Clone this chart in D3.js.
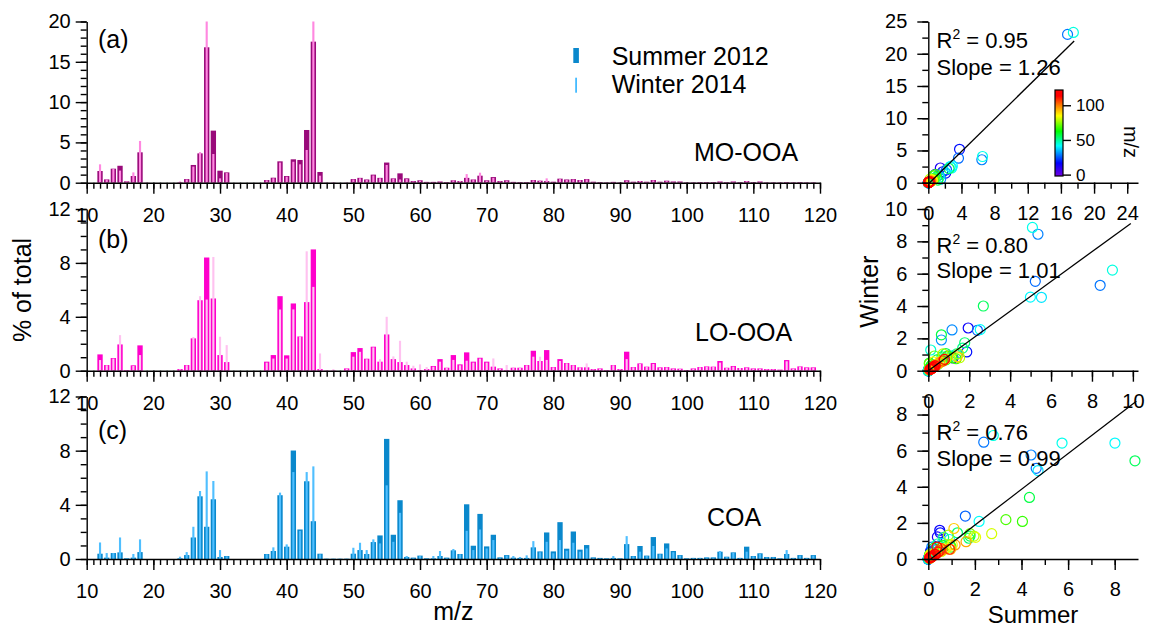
<!DOCTYPE html>
<html>
<head>
<meta charset="utf-8">
<script src="https://cdn.jsdelivr.net/npm/d3@7"></script>
<style>
    body { margin: 0; background: #fff; }
    svg { display: block; font-family: "Liberation Sans", Arial, sans-serif; }
</style>
</head>
<body>
<div id="chart"></div>
<script>

// m/z categories (12 ... 119)
let mz = d3.range(12, 120);

// MO-OOA, % of total
let moSummer = [
    1.45, 0.41, 1.74, 2.10, 0.17, 0.83, 3.77, 0.02, 0, 0,           // 12-21
    0, 0, 0.05, 0.45, 2.20, 3.64, 16.8, 6.46, 1.49, 1.28,           // 22-31
    0, 0, 0, 0, 0, 0.33, 0.62, 2.65, 0.83, 2.90,                    // 32-41
    2.82, 6.54, 17.5, 1.33, 0.02, 0.02, 0, 0.02, 0.45, 0.60,        // 42-51
    0.40, 1.00, 0.60, 2.50, 0.54, 1.16, 0.54, 0.20, 0.30, 0.10,     // 52-61
    0.10, 0.15, 0.08, 0.30, 0.20, 0.60, 0.40, 0.87, 0.30, 0.70,     // 62-71
    0.20, 0.30, 0.10, 0.08, 0.08, 0.33, 0.25, 0.20, 0.12, 0.50,     // 72-81
    0.40, 0.45, 0.33, 0.45, 0.12, 0.08, 0.05, 0.10, 0.05, 0.30,     // 82-91
    0.12, 0.20, 0.12, 0.33, 0.12, 0.25, 0.15, 0.15, 0.05, 0.05,     // 92-101
    0.08, 0.08, 0.08, 0.15, 0.08, 0.15, 0.08, 0.20, 0.08, 0.15,     // 102-111
    0.05, 0.05, 0.05, 0.08, 0.05, 0.08, 0.05, 0.05                  // 112-119
];
let moWinter = [
    2.28, 0.40, 1.70, 1.50, 0.15, 1.28, 5.18, 0.02, 0, 0,
    0, 0, 0.15, 0.40, 2.00, 3.80, 23.0, 3.56, 0.54, 1.20,
    0, 0, 0, 0, 0, 0.30, 0.55, 2.50, 0.75, 2.60,
    2.28, 4.06, 23.3, 0.87, 0.02, 0.05, 0, 0.02, 0.40, 0.55,
    0.35, 0.90, 0.55, 2.20, 0.50, 0.40, 0.45, 0.15, 0.25, 0.10,
    0.10, 0.15, 0.08, 0.30, 0.20, 1.07, 0.40, 1.24, 0.25, 0.60,
    0.15, 0.25, 0.10, 0.08, 0.08, 0.30, 0.25, 0.54, 0.12, 0.45,
    0.35, 0.40, 0.30, 0.40, 0.10, 0.08, 0.05, 0.10, 0.05, 0.25,
    0.10, 0.20, 0.10, 0.30, 0.10, 0.20, 0.12, 0.12, 0.05, 0.05,
    0.08, 0.08, 0.08, 0.15, 0.08, 0.15, 0.08, 0.20, 0.08, 0.15,
    0.05, 0.05, 0.05, 0.08, 0.05, 0.08, 0.05, 0.05
];

// LO-OOA
let loSummer = [
    1.21, 0.42, 0.94, 1.95, 0.05, 0.40, 1.88, 0, 0, 0,
    0, 0, 0.12, 0.42, 2.40, 5.23, 8.40, 5.36, 1.16, 0.64,
    0, 0, 0, 0, 0, 0.67, 1.16, 5.53, 1.14, 4.99,
    2.54, 5.09, 9.00, 0.12, 0.02, 0.02, 0, 0.17, 1.38, 1.68,
    0.89, 1.78, 0.67, 2.69, 0.86, 0.64, 0.42, 0.17, 0.05, 0.12,
    0.35, 0.86, 0.22, 1.16, 0.47, 1.36, 0.67, 0.96, 0.67, 0.30,
    0.17, 0.05, 0.22, 0.22, 0.42, 1.48, 0.72, 1.53, 0.27, 0.86,
    0.57, 0.42, 0.25, 0.25, 0.12, 0.17, 0.05, 0.42, 0.12, 1.41,
    0.27, 0.54, 0.30, 0.57, 0.25, 0.27, 0.17, 0.15, 0.05, 0.17,
    0.27, 0.32, 0.30, 0.72, 0.22, 0.35, 0.20, 0.25, 0.17, 0.17,
    0.12, 0.12, 0.08, 0.79, 0.17, 0.32, 0.25, 0.25
];
let loWinter = [
    0.79, 0.40, 0.90, 2.64, 0.05, 0.35, 1.16, 0, 0, 0,
    0, 0, 0.10, 0.40, 2.50, 5.53, 5.28, 8.44, 2.52, 1.90,
    0, 0, 0, 0, 0, 0.60, 0.90, 4.54, 0.90, 4.55,
    2.54, 8.86, 6.22, 1.28, 0.02, 0.12, 0, 0.15, 1.04, 1.40,
    0.85, 1.73, 0.86, 4.00, 1.06, 2.22, 0.67, 0.37, 0.47, 0.27,
    0.30, 0.67, 0.20, 0.80, 0.40, 0.74, 0.60, 0.90, 0.60, 0.91,
    0.15, 0.42, 0.20, 0.20, 0.40, 1.04, 1.04, 0.80, 0.25, 0.72,
    0.55, 0.40, 0.25, 0.54, 0.10, 0.15, 0.05, 0.40, 0.10, 0.86,
    0.25, 0.50, 0.28, 0.50, 0.22, 0.25, 0.15, 0.15, 0.05, 0.15,
    0.25, 0.30, 0.28, 0.60, 0.20, 0.30, 0.20, 0.22, 0.15, 0.15,
    0.10, 0.10, 0.08, 0.70, 0.15, 0.30, 0.22, 0.22
];

// COA
let coaSummer = [
    0.39, 0.10, 0.44, 0.49, 0.05, 0.10, 0.51, 0, 0, 0,
    0, 0, 0.05, 0.29, 1.59, 4.63, 2.38, 4.41, 0.15, 0.22,
    0, 0, 0, 0, 0, 0.37, 0.59, 4.71, 0.91, 8.01,
    2.18, 5.74, 2.79, 0.39, 0.02, 0.02, 0.02, 0.02, 0.39, 0.66,
    0.37, 1.25, 1.74, 8.87, 1.79, 4.34, 0.15, 0.10, 0.25, 0.05,
    0.05, 0.22, 0.10, 0.64, 0.37, 4.04, 0.98, 3.33, 0.93, 1.79,
    0.12, 0.29, 0.10, 0.08, 0.08, 0.86, 0.56, 1.96, 0.56, 2.72,
    0.76, 2.03, 0.69, 1.03, 0.12, 0.08, 0.05, 0.08, 0.05, 1.10,
    0.22, 0.96, 0.25, 1.62, 0.39, 1.15, 0.59, 0.29, 0.05, 0.08,
    0.08, 0.12, 0.12, 0.54, 0.17, 0.49, 0.08, 0.91, 0.22, 0.42,
    0.15, 0.15, 0.05, 0.37, 0.08, 0.29, 0.08, 0.29
];
let coaWinter = [
    1.22, 0.44, 0.44, 1.59, 0.05, 0.37, 1.45, 0, 0, 0,
    0, 0, 0.17, 0.51, 2.38, 5.02, 6.47, 5.76, 0.66, 0.20,
    0, 0, 0, 0, 0, 0.35, 0.86, 4.90, 1.08, 6.42,
    2.08, 6.42, 6.84, 0.35, 0.02, 0.02, 0.02, 0.02, 0.83, 1.20,
    0.66, 1.45, 1.15, 5.44, 1.27, 3.41, 0.22, 0.08, 0.22, 0.05,
    0.22, 0.59, 0.08, 0.74, 0.35, 2.08, 0.66, 2.18, 0.78, 1.40,
    0.10, 0.25, 0.22, 0.15, 0.27, 1.32, 0.50, 1.27, 0.42, 1.40,
    0.61, 1.20, 0.54, 0.78, 0.10, 0.05, 0.05, 0.22, 0.05, 1.69,
    0.20, 0.54, 0.22, 0.96, 0.35, 0.78, 0.50, 0.25, 0.05, 0.08,
    0.08, 0.12, 0.12, 0.59, 0.15, 0.45, 0.08, 0.54, 0.20, 0.38,
    0.12, 0.12, 0.05, 0.66, 0.08, 0.25, 0.08, 0.25
];

// labels
let componentNames = ["MO-OOA", "LO-OOA", "COA"];
let panelLetters = ["(a)", "(b)", "(c)"];
let legendLabels = ["Summer 2012", "Winter 2014"];
let r2Labels = ["0.95", "0.80", "0.76"];
let slopeLabels = ["1.26", "1.01", "0.99"];

// ticks
let mzTicks = d3.range(10, 121, 10);
let barYMax = [20, 12, 12];
let barYTicks = [[0, 5, 10, 15, 20], [0, 4, 8, 12], [0, 4, 8, 12]];
let scatterXMax = [25.3, 10.25, 9];
let scatterYMax = [25, 10, 9];
let scatterXTicks = [[0, 4, 8, 12, 16, 20, 24], [0, 2, 4, 6, 8, 10], [0, 2, 4, 6, 8]];
let scatterXMinorStep = [2, 1, 1];
let scatterYTicks = [[0, 5, 10, 15, 20, 25], [0, 2, 4, 6, 8, 10], [0, 2, 4, 6, 8]];
let scatterYMinorStep = [2.5, 1, 1];
let colorbarTicks = [0, 50, 100];

// drawn fit lines (data units)
let fitX = [[0.1, 17.6], [0.05, 9.9], [0.05, 8.93]];
let fitSlope = [1.26, 0.92, 0.99];
let fitIntercept = [-0.2, 0, -0.1];

// colours
let summerColors = ["#990a7a", "#ff00cc", "#0a88cc"];
let winterColors = ["#ff88e0", "#ffc2f0", "#50bfff"];
let rainbowStops = [[0, "#7000e0"], [0.15, "#0000ff"], [0.35, "#00ffff"], [0.52, "#00ff00"],
                    [0.70, "#ffff00"], [0.82, "#ff8000"], [0.93, "#ff0000"], [1, "#ff0000"]];

// layout
let rowTop = [21.5, 209, 396.5];
let rowBottom = [182.7, 370.7, 559];
let barLeft = 86.7, barRight = 820;
let scLeft = 928.3, scRight = 1138;
let fontTick = 20;

let svg = d3.select("#chart").append("svg")
    .attr("width", 1152)
    .attr("height", 628);

// m/z colour scale (shared by scatters and colorbar)
let cbDomain = [-2, 122];
let mzColor = d3.scaleLinear()
    .domain(rainbowStops.map(s => cbDomain[0] + s[0] * (cbDomain[1] - cbDomain[0])))
    .range(rainbowStops.map(s => s[1]))
    .clamp(true);

function styleAxis(g, fs) {
    g.selectAll("line, path").attr("stroke", "#000").attr("stroke-width", 1.4);
    g.selectAll("text").attr("font-size", fs).attr("font-family", "Liberation Sans, Arial, sans-serif").attr("fill", "#000");
}

class BarPanel {

    constructor(i, summer, winter) {
        this.i = i;
        this.summer = summer;
        this.winter = winter;
        this.initVis();
    }

    initVis() {
        let vis = this;
        let i = vis.i;

        vis.x = d3.scaleLinear().domain([10, 120]).range([barLeft, barRight]);
        vis.y = d3.scaleLinear().domain([0, barYMax[i]]).range([rowBottom[i], rowTop[i]]);
        let unit = vis.x(11) - vis.x(10);
        let clip = v => Math.min(v, barYMax[i]);

        let rows = mz.map((m, k) => ({m: m, s: vis.summer[k], w: vis.winter[k]}));

        vis.g = svg.append("g");

        // Summer bars - wide
        vis.g.selectAll("rect.summer").data(rows).join("rect")
            .attr("class", "summer")
            .attr("x", d => vis.x(d.m) - unit * 0.4)
            .attr("width", unit * 0.8)
            .attr("y", d => vis.y(clip(d.s)))
            .attr("height", d => vis.y(0) - vis.y(clip(d.s)))
            .attr("fill", summerColors[i]);

        // Winter bars - narrow, on top
        vis.g.selectAll("rect.winter").data(rows).join("rect")
            .attr("class", "winter")
            .attr("x", d => vis.x(d.m) - unit * 0.16)
            .attr("width", unit * 0.32)
            .attr("y", d => vis.y(clip(d.w)))
            .attr("height", d => vis.y(0) - vis.y(clip(d.w)))
            .attr("fill", winterColors[i]);

        // y axis
        let yMinor = vis.g.append("g")
            .attr("transform", `translate(${barLeft}, 0)`)
            .call(d3.axisLeft(vis.y).tickValues(d3.range(0, barYMax[i] + 0.1, 1)).tickSize(6).tickSizeOuter(0).tickFormat(""));
        yMinor.select(".domain").remove();
        styleAxis(yMinor, fontTick);
        let yMajor = vis.g.append("g")
            .attr("transform", `translate(${barLeft}, 0)`)
            .call(d3.axisLeft(vis.y).tickValues(barYTicks[i]).tickSize(11).tickPadding(5).tickSizeOuter(0));
        styleAxis(yMajor, fontTick);

        // x axis
        let xMinor = vis.g.append("g")
            .attr("transform", `translate(0, ${rowBottom[i]})`)
            .call(d3.axisBottom(vis.x).tickValues(d3.range(10, 121, 1)).tickSize(6).tickSizeOuter(0).tickFormat(""));
        xMinor.select(".domain").remove();
        styleAxis(xMinor, fontTick);
        let xMajor = vis.g.append("g")
            .attr("transform", `translate(0, ${rowBottom[i]})`)
            .call(d3.axisBottom(vis.x).tickValues(mzTicks).tickSize(11).tickPadding(14).tickSizeOuter(0));
        styleAxis(xMajor, fontTick);

        // panel letter and component name
        let letterY = [48, 247.5, 438.5];
        vis.g.append("text")
            .attr("x", 98).attr("y", letterY[i])
            .attr("font-size", 25)
            .text(panelLetters[i]);

        let nameX = [694, 695, 707];
        let nameY = [161, 340.7, 525.7];
        vis.g.append("text")
            .attr("x", nameX[i]).attr("y", nameY[i])
            .attr("font-size", 25)
            .text(componentNames[i]);
    }
}

class ScatterPanel {

    constructor(i, summer, winter) {
        this.i = i;
        this.summer = summer;
        this.winter = winter;
        this.initVis();
    }

    initVis() {
        let vis = this;
        let i = vis.i;

        vis.x = d3.scaleLinear().domain([0, scatterXMax[i]]).range([scLeft, scRight]);
        vis.y = d3.scaleLinear().domain([0, scatterYMax[i]]).range([rowBottom[i], rowTop[i]]);

        vis.g = svg.append("g");

        let pts = mz.map((m, k) => ({m: m, s: vis.summer[k], w: vis.winter[k]}));

        // circles coloured by m/z, high m/z drawn last
        vis.g.selectAll("circle").data(pts).join("circle")
            .attr("cx", d => vis.x(d.s))
            .attr("cy", d => vis.y(d.w))
            .attr("r", 5)
            .attr("fill", "none")
            .attr("stroke", d => mzColor(d.m))
            .attr("stroke-width", 1.2);

        // fit line
        vis.g.append("line")
            .attr("x1", vis.x(fitX[i][0]))
            .attr("y1", vis.y(fitSlope[i] * fitX[i][0] + fitIntercept[i]))
            .attr("x2", vis.x(fitX[i][1]))
            .attr("y2", vis.y(fitSlope[i] * fitX[i][1] + fitIntercept[i]))
            .attr("stroke", "#000")
            .attr("stroke-width", 1.3);

        // axes
        let yMinor = vis.g.append("g")
            .attr("transform", `translate(${scLeft}, 0)`)
            .call(d3.axisLeft(vis.y).tickValues(d3.range(0, scatterYMax[i] + 0.01, scatterYMinorStep[i])).tickSize(6).tickSizeOuter(0).tickFormat(""));
        yMinor.select(".domain").remove();
        styleAxis(yMinor, fontTick);
        let yMajor = vis.g.append("g")
            .attr("transform", `translate(${scLeft}, 0)`)
            .call(d3.axisLeft(vis.y).tickValues(scatterYTicks[i]).tickSize(11).tickPadding(10).tickSizeOuter(0));
        styleAxis(yMajor, fontTick);

        let xMinor = vis.g.append("g")
            .attr("transform", `translate(0, ${rowBottom[i]})`)
            .call(d3.axisBottom(vis.x).tickValues(d3.range(0, scatterXMax[i], scatterXMinorStep[i])).tickSize(6).tickSizeOuter(0).tickFormat(""));
        xMinor.select(".domain").remove();
        styleAxis(xMinor, fontTick);
        let xMajor = vis.g.append("g")
            .attr("transform", `translate(0, ${rowBottom[i]})`)
            .call(d3.axisBottom(vis.x).tickValues(scatterXTicks[i]).tickSize(11).tickPadding(12).tickSizeOuter(0));
        styleAxis(xMajor, fontTick);

        // R2 and slope
        let r2Y = [48, 253, 440];
        let slopeY = [74.6, 278, 466];
        let r2 = vis.g.append("text")
            .attr("x", 936.5).attr("y", r2Y[i])
            .attr("font-size", 22);
        r2.append("tspan").text("R");
        r2.append("tspan").attr("font-size", 14).attr("dy", -9).text("2");
        r2.append("tspan").attr("dy", 9).text(" = " + r2Labels[i]);

        vis.g.append("text")
            .attr("x", 936.5).attr("y", slopeY[i])
            .attr("font-size", 22)
            .text("Slope = " + slopeLabels[i]);
    }
}

// draw panels
let summers = [moSummer, loSummer, coaSummer];
let winters = [moWinter, loWinter, coaWinter];
for (let i = 0; i < 3; i++) {
    new BarPanel(i, summers[i], winters[i]);
    new ScatterPanel(i, summers[i], winters[i]);
}

// Legend
let legend = svg.append("g");
legend.append("rect").attr("x", 573.3).attr("y", 48).attr("width", 5.6).attr("height", 15).attr("fill", "#0a88cc");
legend.append("rect").attr("x", 575.2).attr("y", 77.7).attr("width", 1.8).attr("height", 15).attr("fill", "#45bbff");
legend.selectAll("text").data(legendLabels).join("text")
    .attr("x", 611.7)
    .attr("y", (d, k) => [65, 93][k])
    .attr("font-size", 25)
    .text(d => d);

// Axis titles
svg.append("text")
    .attr("transform", "translate(31, 290) rotate(-90)")
    .attr("text-anchor", "middle")
    .attr("font-size", 25)
    .text("% of total");
svg.append("text")
    .attr("x", (barLeft + barRight) / 2).attr("y", 620)
    .attr("text-anchor", "middle")
    .attr("font-size", 25)
    .text("m/z");
svg.append("text")
    .attr("transform", "translate(878, 291.7) rotate(-90)")
    .attr("text-anchor", "middle")
    .attr("font-size", 25)
    .text("Winter");
svg.append("text")
    .attr("x", 1033).attr("y", 623)
    .attr("text-anchor", "middle")
    .attr("font-size", 24)
    .text("Summer");

// Colorbar
let cbY = d3.scaleLinear().domain(cbDomain).range([176, 90]);
let grad = svg.append("defs").append("linearGradient")
    .attr("id", "rainbow")
    .attr("x1", 0).attr("y1", 1).attr("x2", 0).attr("y2", 0);
grad.selectAll("stop").data(rainbowStops).join("stop")
    .attr("offset", d => d[0])
    .attr("stop-color", d => d[1]);
svg.append("rect")
    .attr("x", 1055).attr("y", 90).attr("width", 8).attr("height", 86)
    .attr("fill", "url(#rainbow)")
    .attr("stroke", "#000").attr("stroke-width", 1.2);
let cbAxis = svg.append("g")
    .attr("transform", "translate(1063, 0)")
    .call(d3.axisRight(cbY).tickValues(colorbarTicks).tickSize(8).tickPadding(5).tickSizeOuter(0));
cbAxis.select(".domain").remove();
styleAxis(cbAxis, 17);
svg.append("text")
    .attr("transform", "translate(1124, 142) rotate(90)")
    .attr("text-anchor", "middle")
    .attr("font-size", 20)
    .text("m/z");

</script>
</body>
</html>
